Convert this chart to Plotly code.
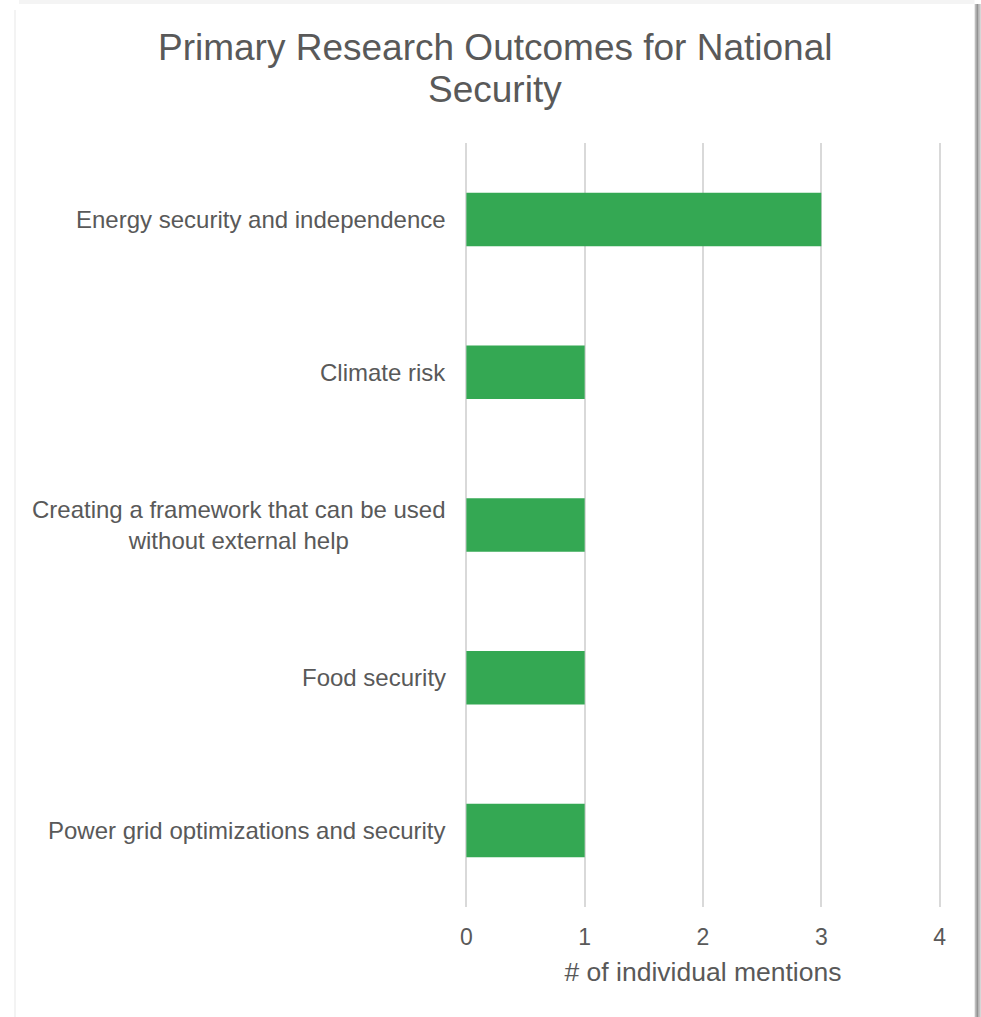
import plotly.graph_objects as go

# Survey tallies: outcome categories and how many respondents mentioned each
categories = [
    "Energy security and independence",
    "Climate risk",
    "Creating a framework that can be used<br>without external help",
    "Food security",
    "Power grid optimizations and security",
]
mentions = [3, 1, 1, 1, 1]
x_ticks = [0, 1, 2, 3, 4]
title_lines = ["Primary Research Outcomes for National", "Security"]

W, H = 981, 1017
X_MIN, X_MAX = -0.02, 4.02          # small pad so the edge gridlines are kept
UNIT = 118.5                        # pixels per mention
L = 466 + X_MIN * UNIT
R = W - (466 + X_MAX * UNIT)
T, B = 143, 110
plot_w = W - L - R
plot_h = H - T - B

GREY_TEXT = "#595959"
BAR_GREEN = "#34A853"
GRID = "#d9d9d9"
FONT = "Liberation Sans, Arial, sans-serif"

# numeric positions so the first category sits on top
ypos = list(range(len(categories)))

fig = go.Figure(
    go.Bar(
        x=mentions,
        y=ypos,
        orientation="h",
        width=0.35,
        marker=dict(color=BAR_GREEN, line=dict(width=0)),
        hoverinfo="x",
    )
)


def px_x(p):
    return (p - L) / plot_w


def px_y(p):
    return (H - B - p) / plot_h


# category labels, each line centred under the longest one
annotations = []
for yi, label in zip(ypos, categories):
    annotations.append(
        dict(
            x=px_x(466), xref="paper", y=yi, yref="y",
            text=label, showarrow=False,
            xanchor="right", yanchor="middle", align="center",
            xshift=-18,
            font=dict(family=FONT, size=24, color=GREY_TEXT),
        )
    )

# two-line chart title, set a little tighter than the default line height
for line, cy in zip(title_lines, [47, 90]):
    annotations.append(
        dict(
            x=px_x(495), xref="paper", y=px_y(cy), yref="paper",
            text=line, showarrow=False,
            xanchor="center", yanchor="middle",
            font=dict(family=FONT, size=37, color=GREY_TEXT),
        )
    )

# card edge shading
shapes = []
edge = [(975, 976, "#cfcfcf"), (976, 977, "#8a8a8a"), (977, 979, "#929292"),
        (979, 980, "#a4a4a4"), (980, 981, "#b8b8b8")]
for x0, x1, c in edge:
    shapes.append(dict(type="rect", xref="paper", yref="paper",
                       x0=px_x(x0), x1=px_x(x1), y0=px_y(H), y1=px_y(4),
                       fillcolor=c, line=dict(width=0), layer="below"))
shapes.append(dict(type="rect", xref="paper", yref="paper",
                   x0=px_x(18), x1=px_x(975), y0=px_y(4), y1=px_y(0),
                   fillcolor="#f4f4f4", line=dict(width=0), layer="below"))
shapes.append(dict(type="rect", xref="paper", yref="paper",
                   x0=px_x(13), x1=px_x(15), y0=px_y(H), y1=px_y(10),
                   fillcolor="#f3f3f3", line=dict(width=0), layer="below"))

fig.update_layout(
    width=W, height=H,
    margin=dict(l=L, r=R, t=T, b=B, pad=0),
    paper_bgcolor="white",
    plot_bgcolor="white",
    showlegend=False,
    xaxis=dict(
        range=[X_MIN, X_MAX],
        tickvals=x_ticks,
        ticktext=[str(v) for v in x_ticks],
        showgrid=True, gridcolor=GRID, gridwidth=1.5,
        zeroline=True, zerolinecolor=GRID, zerolinewidth=1.5,
        showline=False, ticks="",
        tickfont=dict(family=FONT, size=23, color=GREY_TEXT),
        ticklabelstandoff=14,
        title=dict(text="# of individual mentions", standoff=13,
                   font=dict(family=FONT, size=26.5, color=GREY_TEXT)),
        fixedrange=True,
    ),
    yaxis=dict(
        range=[len(categories) - 0.5, -0.5],
        showticklabels=False, showgrid=False, zeroline=False,
        showline=False, ticks="", fixedrange=True,
    ),
    annotations=annotations,
    shapes=shapes,
)

fig.write_html("out.html")
